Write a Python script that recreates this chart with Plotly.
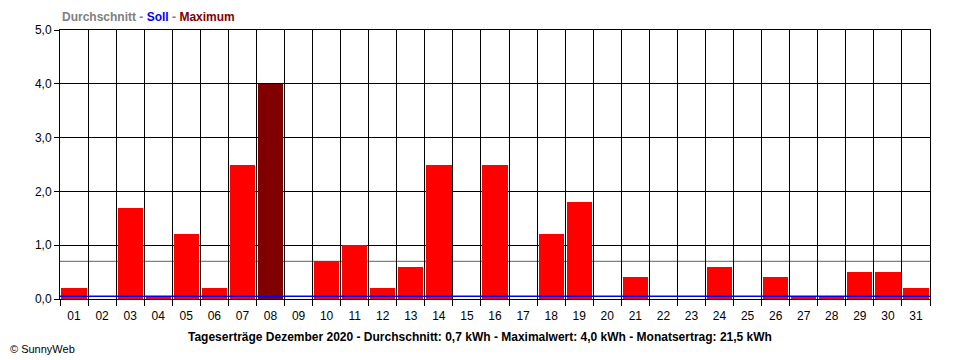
import plotly.graph_objects as go

days = [f"{d:02d}" for d in range(1, 32)]
ertrag = [0.2, 0.0, 1.7, 0.06, 1.2, 0.2, 2.5, 4.0, 0.0, 0.7,
          1.0, 0.2, 0.6, 2.5, 0.0, 2.5, 0.0, 1.2, 1.8, 0.0,
          0.4, 0.0, 0.0, 0.6, 0.0, 0.4, 0.06, 0.06, 0.5, 0.5, 0.2]
durchschnitt = 0.7
soll = 0.05
y_ticks = [0, 1, 2, 3, 4, 5]

FONT = "Liberation Sans, Arial, sans-serif"
maxval = max(ertrag)
colors = ["#800000" if v == maxval else "#FF0000" for v in ertrag]
xpos = list(range(1, len(days) + 1))

fig = go.Figure()
fig.add_trace(go.Bar(x=xpos, y=ertrag, width=0.9, marker=dict(color=colors, line=dict(width=0)),
                     hoverinfo="skip"))

fig.add_shape(type="line", xref="paper", x0=0, x1=1, yref="y", y0=durchschnitt, y1=durchschnitt,
              line=dict(color="#808080", width=1.2), layer="below")
fig.add_shape(type="line", xref="paper", x0=0, x1=1, yref="y", y0=soll, y1=soll,
              line=dict(color="#0000FF", width=1.5), layer="above")

# page body has an 8px margin, so the figure is sized/offset to compensate
fig.update_layout(
    width=952, height=352,
    margin=dict(l=52, r=30, t=22, b=61),
    paper_bgcolor="white", plot_bgcolor="white",
    showlegend=False,
    separators=",.",
    font=dict(family=FONT, size=11, color="black"),
    bargap=0,
)
fig.update_xaxes(
    range=[0.5, len(days) + 0.5],
    tickmode="array", tickvals=xpos, ticktext=days,
    ticks="outside", ticklen=6, tickcolor="rgba(0,0,0,0)",
    showgrid=False, zeroline=False,
    showline=True, linecolor="black", linewidth=1, mirror=True,
    minor=dict(tick0=0.5, dtick=1, showgrid=True, gridcolor="black", gridwidth=1,
               ticks="outside", ticklen=6, tickcolor="black"),
    tickfont=dict(family=FONT, size=12, color="black"),
)
fig.update_yaxes(
    range=[0, 5], tickvals=y_ticks, tickformat=".1f",
    ticks="outside", ticklen=5, tickcolor="black",
    showgrid=True, gridcolor="black", gridwidth=1, zeroline=False,
    showline=True, linecolor="black", linewidth=1, mirror=True,
    tickfont=dict(family=FONT, size=12, color="black"),
)

fig.add_annotation(xref="paper", yref="paper", x=0, y=1, yshift=13, xanchor="left", yanchor="middle",
                   showarrow=False,
                   text="<b><span style='color:#808080'>Durchschnitt</span> <span style='color:#808080'>-</span> "
                        "<span style='color:#0000FF'>Soll</span> <span style='color:#808080'>-</span> "
                        "<span style='color:#800000'>Maximum</span></b>",
                   font=dict(family=FONT, size=12))
fig.add_annotation(xref="paper", yref="paper", x=0.5, xshift=-15, y=0, yshift=-38, xanchor="center", yanchor="middle",
                   showarrow=False,
                   text="<b>Tageserträge Dezember 2020 - Durchschnitt: 0,7 kWh - Maximalwert: 4,0 kWh - Monatsertrag: 21,5 kWh</b>",
                   font=dict(family=FONT, size=12, color="black"))
fig.add_annotation(xref="paper", yref="paper", x=0, xshift=-52, y=0, yshift=-50, xanchor="left", yanchor="middle",
                   showarrow=False, text="© SunnyWeb",
                   font=dict(family=FONT, size=11, color="black"))

fig.write_html("out.html")
